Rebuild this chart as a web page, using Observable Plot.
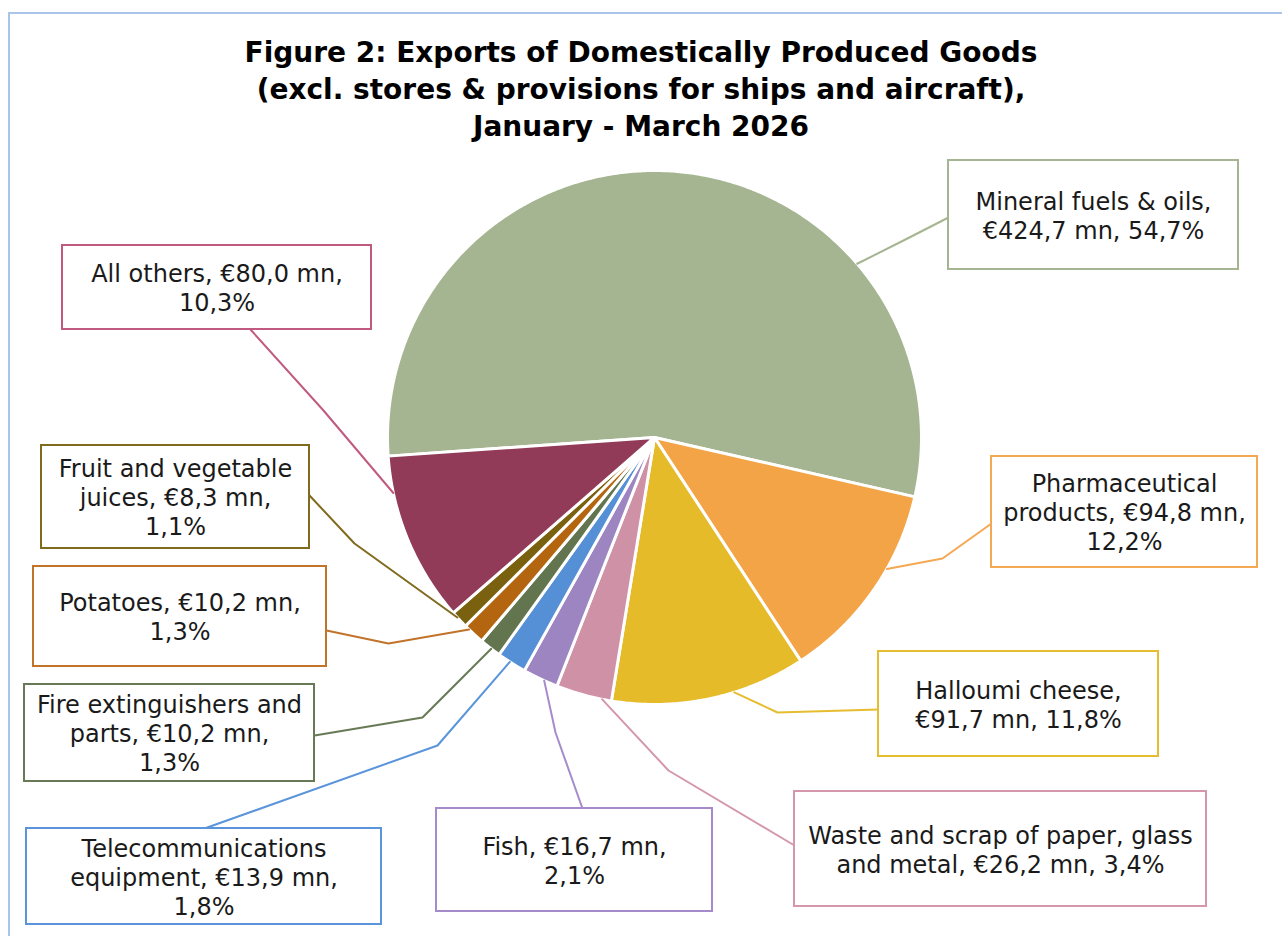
<!DOCTYPE html>
<html><head><meta charset="utf-8">
<script src="https://cdn.jsdelivr.net/npm/d3@7"></script>
<script src="https://cdn.jsdelivr.net/npm/@observablehq/plot@0.6"></script>
<style>
body{margin:0;background:#fff;width:1282px;height:936px;overflow:hidden;position:relative;font-family:"DejaVu Sans",sans-serif;}
#frame{position:absolute;left:8px;top:12px;width:1300px;height:960px;border-left:2px solid #A9C5EB;border-top:2px solid #A9C5EB;}
#title{position:absolute;left:0;top:34px;width:1282px;text-align:center;font-weight:bold;font-size:28px;line-height:37px;color:#000;}
#chart{position:absolute;left:0;top:150px;}
</style></head><body>
<div id="frame"></div>
<div id="title">Figure 2: Exports of Domestically Produced Goods<br>(excl. stores &amp; provisions for ships and aircraft),<br>January - March 2026</div>
<div id="chart"></div>
<script>
// ---- data ----
const categories = ["Mineral fuels & oils", "Pharmaceutical products", "Halloumi cheese",
  "Waste and scrap of paper, glass and metal", "Fish", "Telecommunications equipment",
  "Fire extinguishers and parts", "Potatoes", "Fruit and vegetable juices", "All others"];
const values = [424.7, 94.8, 91.7, 26.2, 16.7, 13.9, 10.2, 10.2, 8.3, 80.0]; // € mn
const percents = [54.7, 12.2, 11.8, 3.4, 2.1, 1.8, 1.3, 1.3, 1.1, 10.3];

// ---- styles ----
const sliceColors = ["#A5B592", "#F3A447", "#E5BB2A", "#CF91A6", "#9D85C1", "#5590D6",
  "#62754F", "#B3650F", "#7A6110", "#913B59"];
const lineColors = ["#A5B592", "#F5A853", "#E6BD30", "#D497AB", "#A58BCB", "#5A94DB",
  "#687A55", "#C2732A", "#7F6A1E", "#C15A80"];

// ---- layout (page pixel units) ----
const pie = {cx: 654, cy: 437, r: 267, startDeg: -94};
const labelLayout = [
  {box: [948, 1238, 160, 269], elbow: [903, 240], attach: [948, 217], anchorDeg: 49.4, lineWords: [4, 3]},
  {box: [991, 1257, 456, 567], elbow: [942, 558], attach: [991, 523], anchorDeg: 119.5, lineWords: [1, 3, 1]},
  {box: [878, 1158, 651, 756], elbow: [777, 712], attach: [878, 709], anchorDeg: 162.6, lineWords: [2, 3]},
  {box: [794, 1206, 791, 906], elbow: [668, 770], attach: [794, 845], anchorDeg: 191.3, lineWords: [6, 5]},
  {box: [436, 712, 808, 911], elbow: [555, 732], attach: [582, 808], anchorDeg: 204.4, lineWords: [3, 1]},
  {box: [26, 381, 828, 924], elbow: [437, 745], attach: [204, 828], anchorDeg: 212.8, lineWords: [1, 3, 1]},
  {box: [24, 314, 684, 781], elbow: [422, 717], attach: [314, 735], anchorDeg: 217.7, lineWords: [3, 3, 1]},
  {box: [33, 326, 566, 666], elbow: [388, 643], attach: [326, 630], anchorDeg: 224, lineWords: [3, 1]},
  {box: [41, 309, 445, 548], elbow: [354, 543], attach: [309, 495], anchorDeg: 227.6, lineWords: [3, 3, 1]},
  {box: [62, 371, 245, 329], elbow: [323, 410], attach: [250, 329], anchorDeg: 258, lineWords: [4, 1]}
];

// ---- build ----
const rad = d => d * Math.PI / 180;
const arcs = d3.pie().sort(null)
  .startAngle(rad(pie.startDeg)).endAngle(rad(pie.startDeg) + 2 * Math.PI)(values);

const slicePts = [];
arcs.forEach((a, i) => {
  const name = categories[i];
  slicePts.push({name, x: pie.cx, y: pie.cy});
  const n = Math.max(2, Math.ceil((a.endAngle - a.startAngle) / rad(0.5)));
  for (let k = 0; k <= n; k++) {
    const t = a.startAngle + (a.endAngle - a.startAngle) * k / n;
    slicePts.push({name, x: pie.cx + pie.r * Math.sin(t), y: pie.cy - pie.r * Math.cos(t)});
  }
});

const fmt = v => v.toFixed(1).replace(".", ",");
function labelText(i) {
  const words = `${categories[i]}, €${fmt(values[i])} mn, ${fmt(percents[i])}%`.split(" ");
  const lines = [];
  let p = 0;
  for (const n of labelLayout[i].lineWords) { lines.push(words.slice(p, p + n).join(" ")); p += n; }
  if (p < words.length) lines[lines.length - 1] += " " + words.slice(p).join(" ");
  return lines.join("\n");
}

const marks = [
  Plot.line(slicePts, {x: "x", y: "y", z: "name", fill: "name", stroke: "white",
    strokeWidth: 3, strokeLinejoin: "round", curve: "linear-closed"})
];
labelLayout.forEach((L, i) => {
  const a = rad(L.anchorDeg);
  const anchor = [pie.cx + pie.r * Math.sin(a), pie.cy - pie.r * Math.cos(a)];
  const pts = [anchor, L.elbow, L.attach].map(([x, y]) => ({x, y}));
  marks.push(Plot.line(pts, {x: "x", y: "y", stroke: lineColors[i], strokeWidth: 2}));
  marks.push(Plot.rect([L], {x1: d => d.box[0], x2: d => d.box[1], y1: d => d.box[2], y2: d => d.box[3],
    fill: "white", stroke: lineColors[i], strokeWidth: 2}));
  marks.push(Plot.text([L], {x: d => (d.box[0] + d.box[1]) / 2, y: d => (d.box[2] + d.box[3]) / 2,
    text: () => labelText(i), fontSize: 24, lineHeight: 1.2, textAnchor: "middle",
    lineAnchor: "middle", fill: "#1a1a1a"}));
});

const chart = Plot.plot({
  width: 1282, height: 786,
  marginTop: 0, marginRight: 0, marginBottom: 0, marginLeft: 0,
  x: {domain: [0, 1282], range: [0, 1282], axis: null},
  y: {domain: [150, 936], range: [0, 786], axis: null},
  color: {domain: categories, range: sliceColors},
  style: {fontFamily: "DejaVu Sans", background: "transparent", overflow: "visible"},
  marks
});
document.getElementById("chart").appendChild(chart);
</script>
</body></html>
